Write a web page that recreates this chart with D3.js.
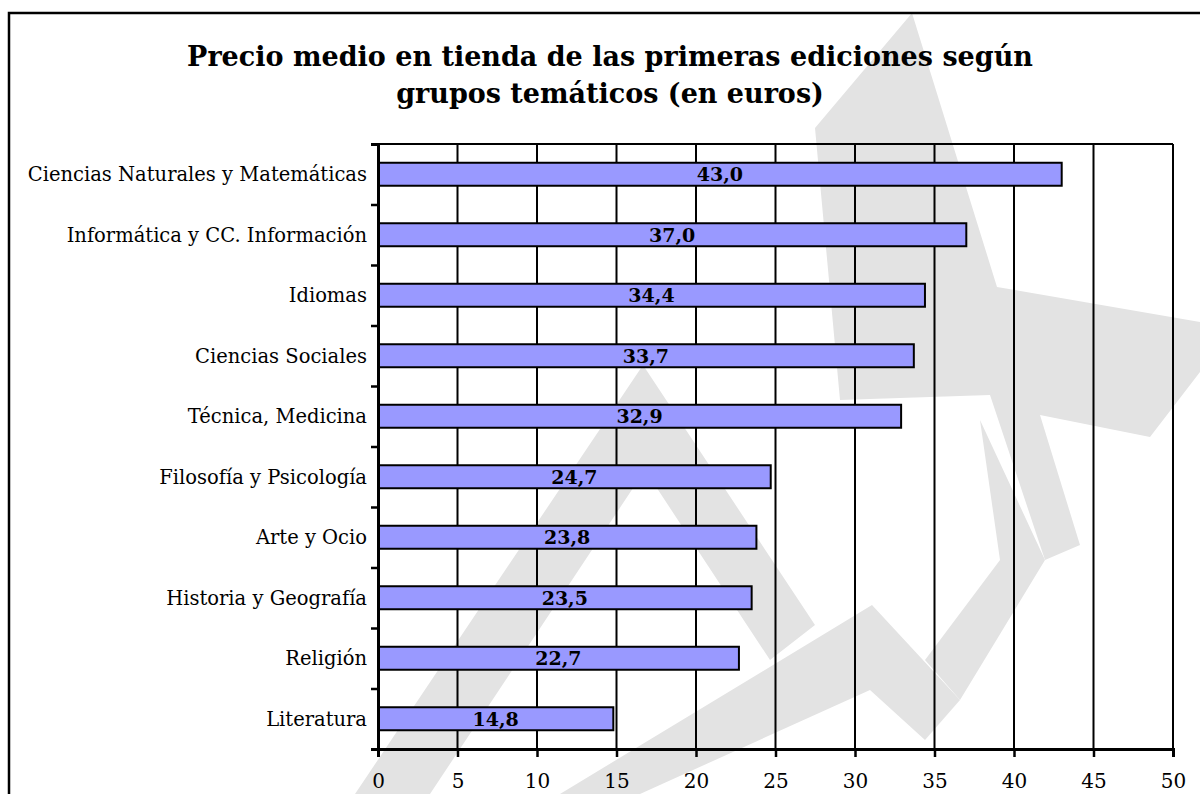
<!DOCTYPE html>
<html>
<head>
<meta charset="utf-8">
<script src="https://cdn.jsdelivr.net/npm/d3@7"></script>
<style>
  body { margin: 0; background: #fff; }
  svg { display: block; }
</style>
</head>
<body>
<div class="canvas"></div>
<script>
const categories = [
  'Ciencias Naturales y Matemáticas',
  'Informática y CC. Información',
  'Idiomas',
  'Ciencias Sociales',
  'Técnica, Medicina',
  'Filosofía y Psicología',
  'Arte y Ocio',
  'Historia y Geografía',
  'Religión',
  'Literatura'
];
const prices = [43.0, 37.0, 34.4, 33.7, 32.9, 24.7, 23.8, 23.5, 22.7, 14.8];
const xTicks = [0, 5, 10, 15, 20, 25, 30, 35, 40, 45, 50];
const titleLines = [
  'Precio medio en tienda de las primeras ediciones según',
  'grupos temáticos (en euros)'
];

const width = 1200, height = 794;
const margin = { top: 144, right: 27, bottom: 45, left: 378 };
const graphWidth = width - margin.left - margin.right;
const graphHeight = height - margin.top - margin.bottom;
const font = '"DejaVu Serif", "Liberation Serif", serif';

const svg = d3.select('.canvas').append('svg')
    .attr('width', width)
    .attr('height', height);

svg.append('rect')
    .attr('width', width)
    .attr('height', height)
    .attr('fill', '#fff');

// background watermark (light grey logo shapes)
const marks = [
  [[912, 13], [997, 287], [1200, 322], [1200, 372], [1150, 437], [1040, 415], [1080, 545], [1045, 560], [990, 395], [840, 400], [815, 128]],
  [[355, 794], [643, 365], [815, 625], [770, 660], [645, 470], [430, 794]],
  [[560, 794], [872, 605], [960, 700], [925, 740], [870, 690], [640, 794]],
  [[980, 420], [1045, 560], [960, 700], [925, 660], [1000, 560]]
];
svg.append('g')
  .selectAll('path')
  .data(marks)
  .enter()
  .append('path')
  .attr('d', d => d3.line()(d) + 'Z')
  .attr('fill', '#e3e3e3');

// outer frame
svg.append('rect')
    .attr('x', 9)
    .attr('y', 13)
    .attr('width', width)
    .attr('height', height)
    .attr('fill', 'none')
    .attr('stroke', '#000')
    .attr('stroke-width', 2.5);

// title
svg.append('text')
    .attr('x', 610)
    .attr('y', 66)
    .attr('text-anchor', 'middle')
    .attr('font-family', font)
    .attr('font-size', '27px')
    .attr('font-weight', 'bold')
    .attr('fill', '#000')
    .selectAll('tspan')
    .data(titleLines)
    .enter()
    .append('tspan')
    .attr('x', 610)
    .attr('dy', (d, i) => i === 0 ? 0 : 37)
    .text(d => d);

const graph = svg.append('g')
    .attr('transform', `translate(${margin.left}, ${margin.top})`);

// Scales
const x = d3.scaleLinear()
    .domain([0, 50])
    .range([0, graphWidth]);

const y = d3.scaleBand()
    .domain(categories)
    .range([0, graphHeight])
    .paddingInner(0.62)
    .paddingOuter(0.31);

const slots = d3.scaleLinear()
    .domain([0, categories.length])
    .range([0, graphHeight]);

// gridlines
graph.append('g')
  .selectAll('line')
  .data(xTicks.slice(1))
  .enter()
  .append('line')
  .attr('x1', d => x(d))
  .attr('x2', d => x(d))
  .attr('y1', 0)
  .attr('y2', graphHeight)
  .attr('stroke', '#000')
  .attr('stroke-width', 2);

graph.append('line')
    .attr('x1', 0)
    .attr('x2', graphWidth)
    .attr('y1', 0)
    .attr('y2', 0)
    .attr('stroke', '#000')
    .attr('stroke-width', 2);

// bars
graph.selectAll('rect.bar')
  .data(prices)
  .enter()
  .append('rect')
  .attr('class', 'bar')
  .attr('x', 0)
  .attr('y', (d, i) => y(categories[i]))
  .attr('width', d => x(d))
  .attr('height', y.bandwidth())
  .attr('fill', '#9999FF')
  .attr('stroke', '#000')
  .attr('stroke-width', 2);

graph.selectAll('text.value')
  .data(prices)
  .enter()
  .append('text')
  .attr('class', 'value')
  .attr('x', d => x(d) / 2)
  .attr('y', (d, i) => y(categories[i]) + y.bandwidth() / 2)
  .attr('dy', '0.38em')
  .attr('text-anchor', 'middle')
  .attr('font-family', font)
  .attr('font-size', '19px')
  .attr('font-weight', 'bold')
  .text(d => d.toFixed(1).replace('.', ','));

// Axis
const xAxis = d3.axisBottom(x).tickValues(xTicks).tickSize(8).tickPadding(17);
const yTicks = d3.axisLeft(slots).tickValues(d3.range(categories.length + 1)).tickSize(7).tickFormat('');
const yAxis = d3.axisLeft(y).tickSize(0).tickPadding(11);

const gx = graph.append('g')
    .attr('transform', `translate(0, ${graphHeight})`)
    .call(xAxis);

const gt = graph.append('g').call(yTicks);
const gy = graph.append('g').call(yAxis);

[gx, gt, gy].forEach(g => {
  g.select('.domain').attr('stroke', '#000').attr('stroke-width', 3);
  g.selectAll('.tick line').attr('stroke', '#000').attr('stroke-width', 2.5);
  g.selectAll('text')
    .attr('font-family', font)
    .attr('fill', '#000');
});
gy.select('.domain').remove();
gx.selectAll('text').attr('font-size', '20px');
gy.selectAll('text').attr('font-size', '19.5px').attr('dy', '0.36em');
</script>
</body>
</html>
